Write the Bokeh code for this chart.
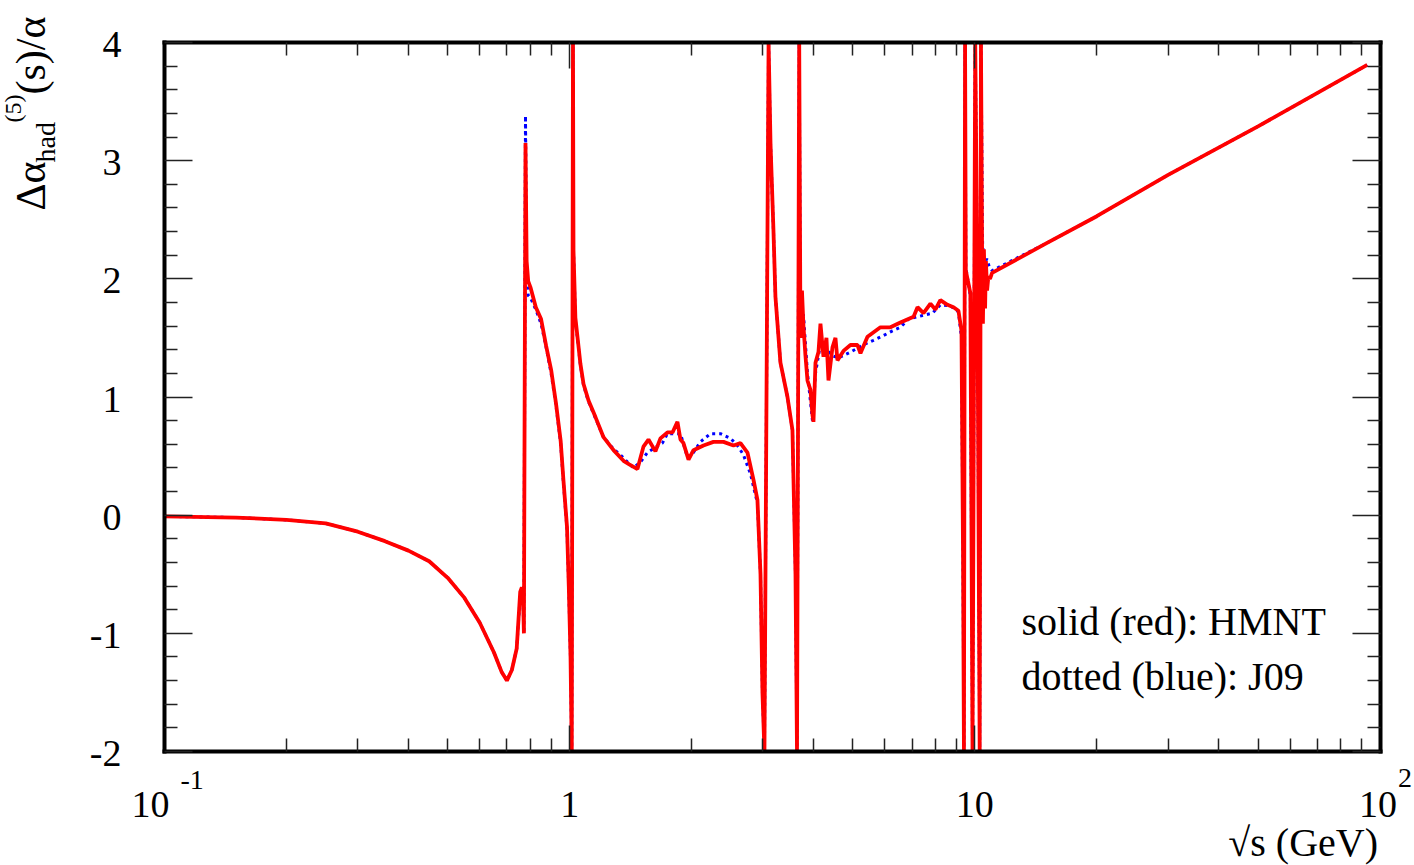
import math
from bokeh.plotting import figure
from bokeh.models import (Range1d, FixedTicker, LogAxis, LinearAxis, Label,
                          CustomJSTickFormatter)
from bokeh.embed import file_html
from bokeh.resources import INLINE

# ---------------- data ----------------
# sqrt(s) in GeV and Delta alpha_had^(5)(s)/alpha ; resonance spikes run to the
# edges of the plotted window (-2 and 4).
hmnt_x = [0.10, 0.15, 0.20, 0.25, 0.30, 0.35, 0.40, 0.45, 0.50, 0.55, 0.60, 0.65,
          0.68, 0.70, 0.72, 0.74, 0.755, 0.762, 0.768, 0.771, 0.778, 0.783, 0.790,
          0.800, 0.825, 0.850, 0.875, 0.900, 0.925, 0.950, 0.965, 0.985, 0.995,
          1.005, 1.012, 1.019, 1.022, 1.033, 1.063, 1.082, 1.113, 1.158, 1.212,
          1.283, 1.358, 1.403, 1.470, 1.521, 1.565, 1.628, 1.675, 1.743, 1.794,
          1.845, 1.877, 1.909, 1.965, 2.021, 2.139, 2.264, 2.397, 2.537, 2.640,
          2.747, 2.842, 2.907, 2.958, 2.991, 3.025, 3.097, 3.131, 3.184, 3.220,
          3.313, 3.448, 3.547, 3.609, 3.640, 3.686, 3.712, 3.744, 3.776, 3.819,
          3.863, 3.929, 3.974, 3.997, 4.043, 4.112, 4.159, 4.231, 4.303, 4.353,
          4.453, 4.529, 4.581, 4.740, 4.932, 5.133, 5.221, 5.433, 5.848, 6.190,
          6.550, 7.060, 7.220, 7.470, 7.770, 7.990, 8.220, 8.560, 8.860, 9.110,
          9.270, 9.350, 9.400, 9.460, 9.500, 9.750, 9.870, 10.023, 10.150, 10.280,
          10.355, 10.42, 10.47, 10.53, 10.60, 10.65, 10.72, 10.80, 10.90, 11.03,
          15.0, 20.0, 30.0, 50.0, 93.0]
hmnt_y = [-0.01, -0.02, -0.04, -0.07, -0.14, -0.22, -0.30, -0.39, -0.53, -0.70,
          -0.91, -1.16, -1.33, -1.40, -1.31, -1.13, -0.65, -0.61, -0.75, -1.00,
          3.15, 2.15, 1.98, 1.93, 1.76, 1.66, 1.43, 1.23, 0.95, 0.63, 0.30, -0.10,
          -0.60, -1.20, -2.0, 4.0, 2.24, 1.67, 1.28, 1.11, 0.97, 0.83, 0.66, 0.55,
          0.46, 0.43, 0.39, 0.58, 0.64, 0.54, 0.65, 0.70, 0.70, 0.79, 0.64, 0.61,
          0.47, 0.55, 0.59, 0.62, 0.62, 0.59, 0.61, 0.53, 0.30, 0.13, -0.5, -1.5,
          -2.0, 4.0, 3.15, 2.41, 1.85, 1.29, 1.00, 0.72, -0.5, -2.0, 4.0, 1.50,
          1.90, 1.60, 1.35, 1.14, 1.06, 0.85, 0.79, 1.29, 1.38, 1.62, 1.34, 1.50,
          1.14, 1.42, 1.50, 1.31, 1.39, 1.44, 1.44, 1.37, 1.51, 1.59, 1.59, 1.63,
          1.68, 1.76, 1.71, 1.79, 1.74, 1.82, 1.78, 1.76, 1.73, 1.56, -0.3, -2.0,
          4.0, 2.07, 1.88, -2.0, 4.0, 1.85, -2.0, 4.0, 2.27, 1.62, 2.25, 1.75,
          2.15, 1.90, 2.02, 2.00, 2.05, 2.30, 2.53, 2.88, 3.29, 3.81]

j09_x = [0.10, 0.15, 0.20, 0.25, 0.30, 0.35, 0.40, 0.45, 0.50, 0.55, 0.60, 0.65,
         0.68, 0.70, 0.72, 0.74, 0.755, 0.762, 0.768, 0.771, 0.778, 0.783, 0.790,
         0.800, 0.825, 0.850, 0.875, 0.900, 0.925, 0.950, 0.965, 0.985, 0.995,
         1.005, 1.012, 1.019, 1.022, 1.033, 1.063, 1.082, 1.113, 1.158, 1.212,
         1.283, 1.335, 1.389, 1.437, 1.496, 1.556, 1.694, 1.743, 1.877, 1.953,
         2.021, 2.102, 2.226, 2.356, 2.494, 2.595, 2.685, 2.794, 2.907, 2.958,
         2.991, 3.025, 3.097, 3.131, 3.184, 3.220, 3.313, 3.448, 3.547, 3.609,
         3.640, 3.686, 3.712, 3.776, 3.863, 3.974, 4.043, 4.159, 4.303, 4.453,
         4.600, 4.930, 5.370, 5.620, 5.950, 6.260, 6.550, 6.860, 7.430, 7.860,
         8.220, 8.710, 9.110, 9.270, 9.350, 9.400, 9.460, 9.500, 9.750, 9.870,
         10.023, 10.150, 10.280, 10.355, 10.450, 10.550, 10.700, 10.860, 11.030,
         15.0, 20.0, 30.0, 50.0, 93.0]
j09_y = [-0.01, -0.02, -0.04, -0.07, -0.14, -0.22, -0.30, -0.39, -0.53, -0.70,
         -0.91, -1.16, -1.33, -1.40, -1.31, -1.13, -0.68, -0.64, -0.78, -1.00,
         3.38, 2.05, 1.86, 1.84, 1.74, 1.62, 1.42, 1.20, 0.93, 0.61, 0.28, -0.12,
         -0.62, -1.22, -2.0, 4.0, 2.24, 1.65, 1.27, 1.10, 0.96, 0.82, 0.66, 0.56,
         0.51, 0.45, 0.40, 0.45, 0.53, 0.61, 0.69, 0.69, 0.49, 0.53, 0.62, 0.69,
         0.69, 0.65, 0.59, 0.51, 0.35, 0.10, -0.5, -1.5, -2.0, 4.0, 3.15, 2.41,
         1.85, 1.29, 1.00, 0.72, -0.5, -2.0, 4.0, 1.50, 1.70, 1.20, 0.80, 1.20,
         1.45, 1.40, 1.35, 1.33, 1.38, 1.45, 1.48, 1.52, 1.56, 1.59, 1.66, 1.69,
         1.71, 1.78, 1.77, 1.72, 1.50, -0.3, -2.0, 4.0, 2.10, 1.85, -2.0, 4.0,
         1.90, -2.0, 4.0, 2.30, 2.12, 2.17, 2.10, 2.07, 2.30, 2.53, 2.88, 3.29,
         3.81]

assert len(hmnt_x) == len(hmnt_y), (len(hmnt_x), len(hmnt_y))
assert len(j09_x) == len(j09_y), (len(j09_x), len(j09_y))

X_MIN, X_MAX = 0.1, 100.0
Y_MIN, Y_MAX = -2.0, 4.0
x_major = [0.1, 1, 10, 100]
x_minor = [m * 10.0 ** e for e in (-1, 0, 1) for m in range(2, 10)]
y_major = [-2, -1, 0, 1, 2, 3, 4]
y_minor = [round(-2 + 0.2 * i, 1) for i in range(31) if i % 5]
y_tick_labels = ["-2", "-1", "0", "1", "2", "3", "4"]

FONT = "Liberation Serif"

# ---------------- geometry: the frame fills the canvas, the box is drawn by
# axes at fixed locations so that every text lies inside the frame ----------
W, H = 1414, 865
BOX_L, BOX_R, BOX_T, BOX_B = 164.0, 1379.5, 42.0, 751.0
dec = (BOX_R - BOX_L) / 3.0
upx = (BOX_B - BOX_T) / (Y_MAX - Y_MIN)
x_lo = 10 ** (math.log10(X_MIN) - BOX_L / dec)
x_hi = 10 ** (math.log10(X_MAX) + (W - BOX_R) / dec)
y_hi = Y_MAX + BOX_T / upx
y_lo = Y_MIN - (H - BOX_B) / upx

p = figure(width=W, height=H, x_axis_type="log",
           x_range=Range1d(x_lo, x_hi), y_range=Range1d(y_lo, y_hi),
           output_backend="svg", toolbar_location=None,
           min_border=0, min_border_left=0, min_border_right=0,
           min_border_top=0, min_border_bottom=0)
p.xgrid.visible = False
p.ygrid.visible = False
p.outline_line_color = None
p.background_fill_color = "white"
p.border_fill_color = "white"

blank = CustomJSTickFormatter(code="return ''")


def style(ax, loc, bounds, major_len, minor_len):
    ax.fixed_location = loc
    ax.bounds = bounds
    ax.formatter = blank
    ax.axis_line_color = "black"
    ax.axis_line_width = 4
    ax.axis_line_cap = "square"
    ax.major_tick_in = major_len
    ax.major_tick_out = 0
    ax.minor_tick_in = minor_len
    ax.minor_tick_out = 0
    ax.major_tick_line_color = "#222222"
    ax.minor_tick_line_color = "#222222"
    ax.major_tick_line_width = 1.5
    ax.minor_tick_line_width = 1.5


xb = p.xaxis[0]
xb.ticker = FixedTicker(ticks=x_major, minor_ticks=x_minor)
style(xb, Y_MIN, (X_MIN, X_MAX), 26, 13)

xt = LogAxis(ticker=FixedTicker(ticks=x_major, minor_ticks=x_minor))
style(xt, Y_MAX, (X_MIN, X_MAX), 26, 13)
p.add_layout(xt, "above")

yl = p.yaxis[0]
yl.ticker = FixedTicker(ticks=y_major, minor_ticks=y_minor)
style(yl, X_MIN, (Y_MIN, Y_MAX), 28, 13)

yr = LinearAxis(ticker=FixedTicker(ticks=y_major, minor_ticks=y_minor))
style(yr, X_MAX, (Y_MIN, Y_MAX), 28, 13)
p.add_layout(yr, "right")

# ---------------- curves ----------------
p.line(j09_x, j09_y, line_color="#0000ff", line_width=3, line_dash="3 4")
p.line(hmnt_x, hmnt_y, line_color="#ff0000", line_width=3.8)

# ---------------- texts ----------------
LIFT = 0.3  # baseline correction of the text box, in em


def lab(text, x, y, size, xo=0.0, yo=0.0, align="left", angle=0.0):
    """Text whose alphabetic baseline starts xo, yo px from the data point."""
    if angle:
        xo -= LIFT * size
    else:
        yo += LIFT * size
    p.add_layout(Label(x=x, y=y, x_offset=xo, y_offset=yo, text=text,
                       text_font=FONT, text_font_size=f"{size}px",
                       text_align=align, text_baseline="alphabetic",
                       angle=angle, text_color="black"))


# y tick labels
for v, t in zip(y_major, y_tick_labels):
    p.add_layout(Label(x=X_MIN, y=v, x_offset=-43, y_offset=-2, text=t,
                       text_font=FONT, text_font_size="38px",
                       text_align="right", text_baseline="middle",
                       text_color="black"))

# x tick labels
lab("10", X_MIN, Y_MIN, 38, xo=-14, yo=-64, align="center")
lab("-1", X_MIN, Y_MIN, 28, xo=16, yo=-37)
lab("1", 1, Y_MIN, 38, yo=-64, align="center")
lab("10", 10, Y_MIN, 38, yo=-64, align="center")
lab("10", X_MAX, Y_MIN, 38, xo=-2, yo=-64, align="center")
lab("2", X_MAX, Y_MIN, 28, xo=18, yo=-35)

# axis titles
lab("\u221as (GeV)", X_MAX, Y_MIN, 40, xo=-2, yo=-103, align="right")
rot = math.pi / 2
lab("\u0394\u03b1", X_MIN, Y_MAX, 42, xo=-121, yo=-168, angle=rot)
lab("had", X_MIN, Y_MAX, 28, xo=-111, yo=-120, angle=rot)
lab("(5)", X_MIN, Y_MAX, 24, xo=-144, yo=-80, angle=rot)
lab("(s)/\u03b1", X_MIN, Y_MAX, 42, xo=-121, yo=-52, angle=rot)

# legend texts
lab("solid (red): HMNT", X_MIN, Y_MAX, 40, xo=857, yo=-591)
lab("dotted (blue): J09", X_MIN, Y_MAX, 40, xo=857, yo=-646)

open("out.html", "w").write(file_html(p, INLINE))
